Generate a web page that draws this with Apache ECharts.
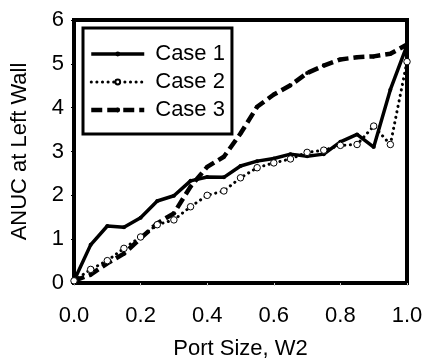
<!DOCTYPE html>
<html>
<head>
<meta charset="utf-8">
<script src="https://cdn.jsdelivr.net/npm/echarts@6/dist/echarts.min.js"></script>
<style>
  html, body { margin: 0; padding: 0; background: #fff; }
  #chart { width: 425px; height: 362px; }
</style>
</head>
<body>
<div id="chart"></div>
<script>
// Port size W2 (x) and ANUC at the left wall for three cases
const portSize = [0, 0.05, 0.1, 0.15, 0.2, 0.25, 0.3, 0.35, 0.4, 0.45, 0.5,
                  0.55, 0.6, 0.65, 0.7, 0.75, 0.8, 0.85, 0.9, 0.95, 1.0];
const case1 = [0.05, 0.87, 1.3, 1.27, 1.49, 1.87, 1.99, 2.33, 2.42, 2.41, 2.67,
               2.78, 2.84, 2.94, 2.89, 2.94, 3.22, 3.39, 3.1, 4.41, 5.42];
const case2 = [0.05, 0.31, 0.51, 0.79, 1.05, 1.33, 1.44, 1.74, 2.0, 2.1, 2.4,
               2.63, 2.74, 2.83, 2.98, 3.03, 3.14, 3.16, 3.58, 3.16, 5.05];
const case3 = [0.05, 0.19, 0.45, 0.67, 1.02, 1.36, 1.59, 2.2, 2.65, 2.88, 3.41,
               4.02, 4.3, 4.51, 4.79, 4.96, 5.1, 5.15, 5.17, 5.23, 5.44];
const seriesNames = ['Case 1', 'Case 2', 'Case 3'];
const xTicks = [0, 0.2, 0.4, 0.6, 0.8, 1.0];
const yTicks = [0, 1, 2, 3, 4, 5, 6];

const pairs = ys => portSize.map((x, i) => [x, ys[i]]);
const font = '"Liberation Sans", Arial, sans-serif';

const lineStyles = [
  { color: '#000', width: 3.5 },
  { color: '#000', width: 3, type: [0.1, 5.5], cap: 'round' },
  { color: '#000', width: 4.5, type: [11, 5] }
];

const chart = echarts.init(document.getElementById('chart'), null, { renderer: 'canvas' });
chart.setOption({
  animation: false,
  backgroundColor: '#fff',
  grid: {
    left: 74, right: 18, top: 20, bottom: 79,
    containLabel: false, outerBoundsMode: 'none',
    show: true, borderColor: '#000', borderWidth: 4, backgroundColor: 'transparent'
  },
  legend: {
    left: 83, top: 28,
    orient: 'vertical',
    padding: [14, 7, 12, 6],
    itemGap: 4,
    itemWidth: 53, itemHeight: 6,
    borderColor: '#000', borderWidth: 3,
    backgroundColor: '#fff',
    textStyle: { fontFamily: font, fontSize: 22, lineHeight: 24, color: '#000', padding: [0, 0, 0, 6] },
    data: seriesNames.map((name, i) => ({ name, lineStyle: lineStyles[i] }))
  },
  xAxis: {
    type: 'value',
    min: xTicks[0], max: xTicks[xTicks.length - 1], interval: 0.2,
    name: 'Port Size, W2',
    nameLocation: 'middle', nameGap: 55,
    nameTextStyle: { fontFamily: font, fontSize: 22, color: '#000' },
    axisLine: { show: true, lineStyle: { color: '#000', width: 4 } },
    axisTick: { show: true, inside: false, length: 3, lineStyle: { color: '#ccc', width: 1 } },
    axisLabel: {
      fontFamily: font, fontSize: 22, color: '#000', margin: 22,
      formatter: v => v.toFixed(1)
    },
    splitLine: { show: false }
  },
  yAxis: {
    type: 'value',
    min: yTicks[0], max: yTicks[yTicks.length - 1], interval: 1,
    name: 'ANUC at Left Wall',
    nameLocation: 'middle', nameGap: 43,
    nameTextStyle: { fontFamily: font, fontSize: 22, color: '#000' },
    axisLine: { show: true, lineStyle: { color: '#000', width: 4 } },
    axisTick: { show: true, length: 3, lineStyle: { color: '#000', width: 1 } },
    axisLabel: { fontFamily: font, fontSize: 22, color: '#000', margin: 10 },
    splitLine: { show: false }
  },
  series: [
    {
      name: seriesNames[0], type: 'line', data: pairs(case1),
      symbol: 'circle', symbolSize: 4,
      itemStyle: { color: '#000' },
      lineStyle: lineStyles[0],
      z: 3
    },
    {
      name: seriesNames[1], type: 'line', data: pairs(case2),
      symbol: 'circle', symbolSize: 6.5,
      itemStyle: { color: '#fff', borderColor: '#000', borderWidth: 1 },
      lineStyle: lineStyles[1],
      z: 4
    },
    {
      name: seriesNames[2], type: 'line', data: pairs(case3),
      symbol: 'circle', symbolSize: 4,
      itemStyle: { color: '#000' },
      lineStyle: lineStyles[2],
      z: 2
    }
  ]
});
</script>
</body>
</html>
